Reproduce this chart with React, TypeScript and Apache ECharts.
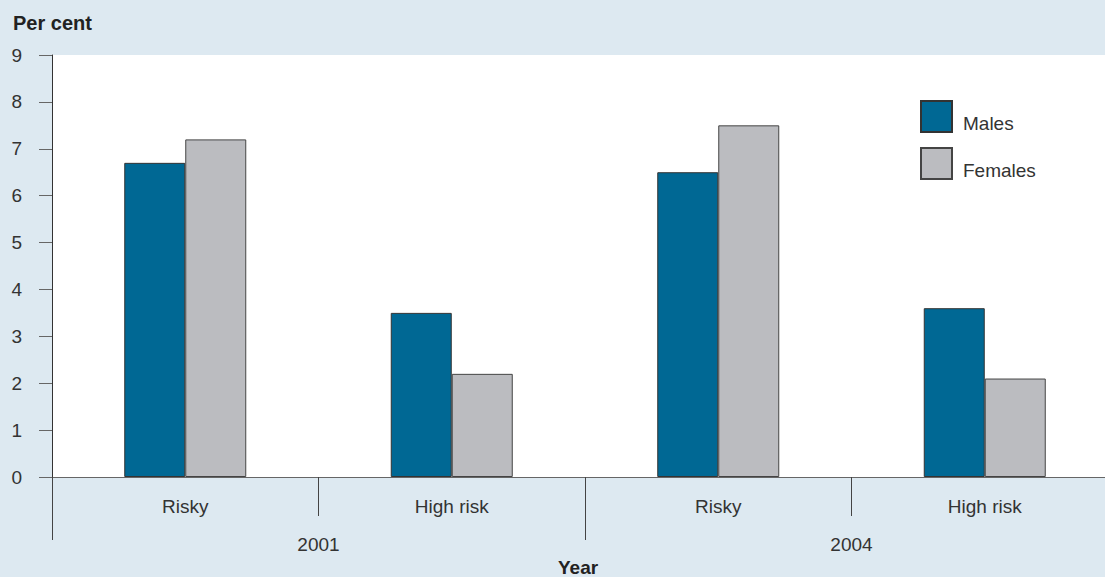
import React, { useEffect, useRef } from "react";
import * as echarts from "echarts";

const groups = ["Risky", "High risk", "Risky", "High risk"];
const years = ["2001", "2004"];
const males = [6.7, 3.5, 6.5, 3.6];
const females = [7.2, 2.2, 7.5, 2.1];
const yTicks = [0, 9, 1];

const FONT = "Liberation Sans, Arial, sans-serif";

export default function App() {
  const ref = useRef<HTMLDivElement>(null);
  useEffect(() => {
    if (!ref.current) return;
    const chart = echarts.init(ref.current, undefined, { renderer: "svg" });
    chart.setOption({
      animation: false,
      backgroundColor: "#dde9f1",
      textStyle: { fontFamily: FONT },
      grid: {
        left: 52,
        width: 1066,
        top: 55,
        bottom: 100,
        show: true,
        backgroundColor: "#ffffff",
        borderWidth: 0,
        outerBoundsMode: "none",
        containLabel: false,
      },
      legend: {
        orient: "vertical",
        left: 920,
        top: 100,
        padding: 0,
        itemWidth: 31,
        itemHeight: 31,
        itemGap: 14,
        icon: "rect",
        formatter: "{a|{name}}",
        textStyle: {
          fontSize: 19,
          color: "#333",
          fontFamily: FONT,
          rich: { a: { fontSize: 19, color: "#333", fontFamily: FONT, padding: [13, 0, 0, 6] } },
        },
        data: ["Males", "Females"],
      },
      graphic: [
        {
          type: "text",
          left: 13,
          top: 13,
          style: { text: "Per cent", font: `bold 20px ${FONT}`, fill: "#222" },
        },
        {
          type: "text",
          left: 558,
          top: 558,
          style: { text: "Year", font: `bold 19px ${FONT}`, fill: "#222" },
        },
      ],
      xAxis: [
        {
          type: "category",
          data: groups,
          position: "bottom",
          axisLine: { show: true, lineStyle: { color: "#666", width: 1 } },
          axisTick: { show: true, length: 39, lineStyle: { color: "#444" } },
          axisLabel: { fontSize: 19, color: "#333", margin: 20, fontFamily: FONT },
        },
        {
          type: "category",
          data: years,
          position: "bottom",
          axisLine: { show: false },
          axisTick: { show: true, length: 63, lineStyle: { color: "#444" } },
          axisLabel: { fontSize: 19, color: "#333", margin: 58, fontFamily: FONT },
        },
      ],
      yAxis: {
        type: "value",
        min: yTicks[0],
        max: yTicks[1],
        interval: yTicks[2],
        axisLine: { show: true, lineStyle: { color: "#333" } },
        axisTick: { show: true, length: 13, lineStyle: { color: "#666" } },
        axisLabel: { fontSize: 19, color: "#333", margin: 30, fontFamily: FONT },
        splitLine: { show: false },
      },
      series: [
        {
          name: "Males",
          type: "bar",
          data: males,
          barWidth: 61,
          barGap: "0%",
          itemStyle: { color: "#006894", borderColor: "#333", borderWidth: 1 },
        },
        {
          name: "Females",
          type: "bar",
          data: females,
          barWidth: 61,
          barGap: "0%",
          itemStyle: { color: "#bbbcc0", borderColor: "#444", borderWidth: 1 },
        },
      ],
    });
    return () => chart.dispose();
  }, []);
  return (
    <div
      ref={ref}
      style={{ position: "fixed", left: 0, top: 0, width: 1105, height: 577 }}
    />
  );
}
